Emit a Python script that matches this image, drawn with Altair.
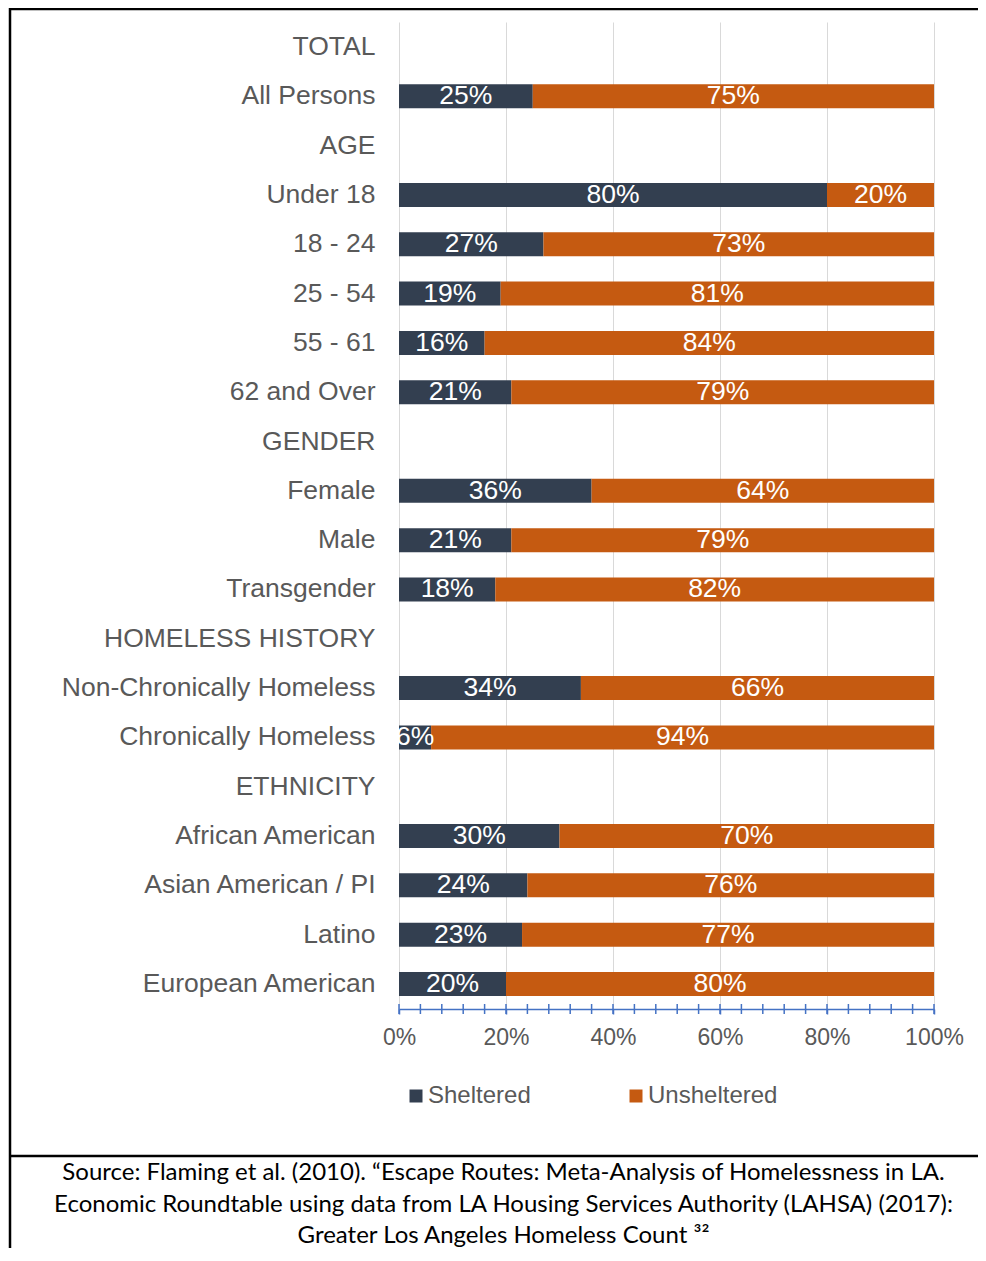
import altair as alt
import pandas as pd

rows = ["TOTAL", "All Persons", "AGE", "Under 18", "18 - 24", "25 - 54", "55 - 61",
        "62 and Over", "GENDER", "Female", "Male", "Transgender", "HOMELESS HISTORY",
        "Non-Chronically Homeless", "Chronically Homeless", "ETHNICITY",
        "African American", "Asian American / PI", "Latino", "European American"]
bar_rows = ["All Persons", "Under 18", "18 - 24", "25 - 54", "55 - 61", "62 and Over",
            "Female", "Male", "Transgender", "Non-Chronically Homeless",
            "Chronically Homeless", "African American", "Asian American / PI",
            "Latino", "European American"]
sheltered = [25, 80, 27, 19, 16, 21, 36, 21, 18, 34, 6, 30, 24, 23, 20]
unsheltered = [75, 20, 73, 81, 84, 79, 64, 79, 82, 66, 94, 70, 76, 77, 80]
series = ["Sheltered", "Unsheltered"]
colors = ["#333F50", "#C55A11"]
major_ticks = [0, 20, 40, 60, 80, 100]
minor_ticks = list(range(0, 101, 4))
source_lines = [
    "Source: Flaming et al. (2010). \u201cEscape Routes: Meta-Analysis of Homelessness in LA.",
    "Economic Roundtable using data from LA Housing Services Authority (LAHSA) (2017):",
    "Greater Los Angeles Homeless Count \u00b3\u00b2",
]

recs = []
for r, s, u in zip(bar_rows, sheltered, unsheltered):
    recs.append({"row": r, "series": "Sheltered", "order": 0, "value": s})
    recs.append({"row": r, "series": "Unsheltered", "order": 1, "value": u})
df = pd.DataFrame(recs)

FONT = "Liberation Sans, Arial, sans-serif"
W, H = 535, 987

xscale = alt.Scale(domain=[0, 100], nice=False, zero=True)
yscale = alt.Scale(domain=rows, paddingInner=0.513, paddingOuter=0.264)
xaxis = alt.Axis(values=major_ticks, labelExpr="datum.value + '%'", grid=True,
                 gridColor="#D9D9D9", gridWidth=1, domainColor="#4472C4", domainWidth=1.5,
                 tickColor="#4472C4", tickSize=5, tickWidth=1.5, labelFontSize=23,
                 labelColor="#595959", labelFont=FONT, labelPadding=12, labelFlush=False,
                 labelBound=False, labelOverlap=False, title=None)
yaxis = alt.Axis(labelFontSize=26.5, labelColor="#595959", labelFont=FONT, domain=False,
                 ticks=False, grid=False, labelPadding=24, title=None, labelLimit=400)

base = alt.Chart(df).transform_stack(
    stack="value", as_=["x0", "x1"], groupby=["row"], sort=[alt.SortField("order")]
).transform_calculate(mid="(datum.x0 + datum.x1) / 2", lab="datum.value + '%'")

bars = base.mark_bar().encode(
    y=alt.Y("row:N", scale=yscale, axis=yaxis, sort=rows),
    x=alt.X("x0:Q", scale=xscale, axis=xaxis),
    x2="x1:Q",
    color=alt.Color("series:N", scale=alt.Scale(domain=series, range=colors),
                    legend=alt.Legend(orient="none", legendX=5, legendY=1062,
                                      direction="horizontal", title=None,
                                      symbolType="square", symbolSize=169,
                                      symbolStrokeWidth=0, labelFontSize=24,
                                      labelColor="#595959", labelFont=FONT,
                                      columnPadding=93, labelOffset=0, padding=0)),
)

labels = base.mark_text(color="white", fontSize=26.5, font=FONT, baseline="middle",
                        align="center").encode(
    y=alt.Y("row:N", scale=yscale, axis=yaxis, sort=rows),
    x=alt.X("mid:Q", scale=xscale, axis=xaxis),
    text="lab:N",
)

ticks = alt.Chart(pd.DataFrame({"t": minor_ticks})).mark_rule(
    color="#4472C4", strokeWidth=1.5).encode(
    x=alt.X("t:Q", scale=xscale, axis=xaxis),
    y=alt.value(H - 5), y2=alt.value(H + 5),
)

one = pd.DataFrame({"a": [0]})
border = alt.Chart(one).mark_rect(fillOpacity=0, stroke="black", strokeWidth=2.5).encode(
    x=alt.value(-389), x2=alt.value(620), y=alt.value(-13), y2=alt.value(1260),
)
divider = alt.Chart(one).mark_rule(color="black", strokeWidth=2.5).encode(
    x=alt.value(-389), x2=alt.value(620), y=alt.value(1134),
)
source = alt.Chart(pd.DataFrame({"txt": ["\n".join(source_lines)]})).mark_text(
    font="Lato, Roboto, sans-serif", fontSize=24,
    color="black", align="center", baseline="alphabetic", lineBreak="\n", lineHeight=31.5,
).encode(x=alt.value(104.5), y=alt.value(1158), text="txt:N")

chart = alt.layer(border, divider, bars, labels, ticks, source).properties(
    width=W, height=H,
    autosize=alt.AutoSizeParams(type="none"),
    padding={"left": 391, "top": 14, "right": 44, "bottom": 239},
    background="white",
).configure_view(stroke=None)

chart.save("out.html", embed_options={"renderer": "svg", "actions": False})
